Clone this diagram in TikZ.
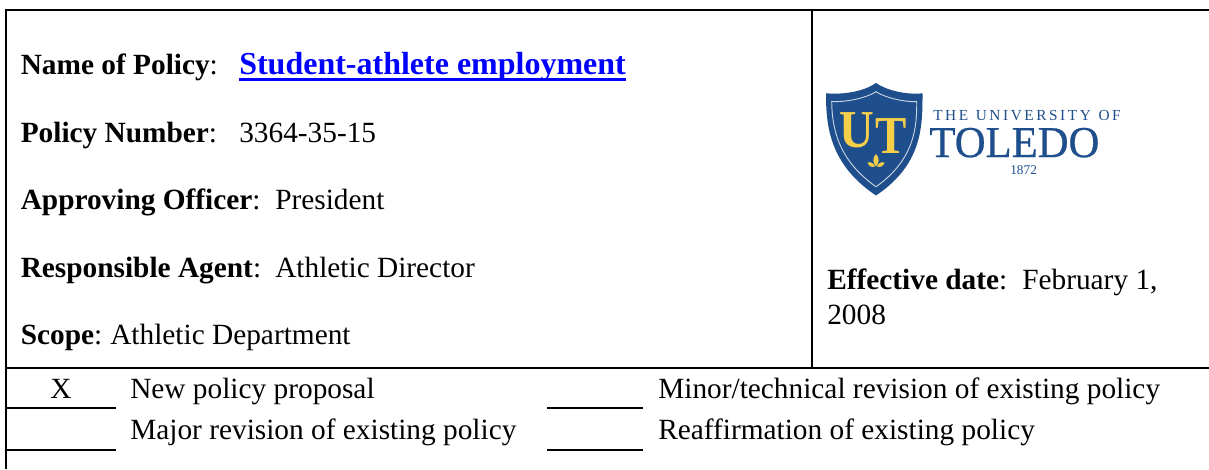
\documentclass[tikz,border=0pt]{standalone}
\usepackage{fontspec}
\setmainfont{Liberation Serif}
\newfontfamily\logoserif[FakeBold=0.6]{Liberation Serif}
\definecolor{utblue}{HTML}{1F4E8C}
\definecolor{utgold}{HTML}{F5CF4A}
\definecolor{linkblue}{HTML}{0000FF}
\tikzset{
  rule/.style={draw=black,line width=1.5pt},
  field/.style={anchor=base west,inner sep=0pt,font=\fontsize{22}{24}\selectfont},
  linktext/.style={anchor=base west,inner sep=0pt,text=linkblue,font=\fontsize{24}{26}\selectfont\bfseries},
  logotext/.style={anchor=base west,inner sep=0pt,text=utblue},
  crest/.style={anchor=base,inner sep=0pt,text=utgold,font=\fontsize{40}{40}\selectfont\bfseries}
}
\begin{document}
\begin{tikzpicture}[x=0.75pt,y=-0.75pt]
\useasboundingbox (0,0) rectangle (1209,469);
\fill[white] (0,0) rectangle (1209,469);
% frame
\coordinate (tl) at (6,10.3); \coordinate (tr) at (1209,10.3);
\coordinate (bl) at (6,469); \coordinate (ml) at (6,367.7);
\coordinate (mr) at (1209,367.7); \coordinate (dt) at (812,10.3); \coordinate (db) at (812,367.7);
\draw[rule] (bl) -- (tl) -- (tr);
\draw[rule] (ml) -- (mr);
\draw[rule] (dt) -- (db);
% fields
\node[field] (n1) at (20.5,74) {\textbf{Name of Policy}:};
\node[linktext] (n1b) at (239,74) {Student-athlete employment};
\fill[linkblue] (239,77.5) rectangle (626,80.7);
\node[field] (n2) at (20.5,142) {\textbf{Policy Number}:};
\node[field] (n2b) at (239,142) {3364-35-15};
\node[field] (n3) at (20.5,209) {\textbf{Approving Officer}:};
\node[field] (n3b) at (275,209) {President};
\node[field] (n4) at (20.5,277) {\textbf{Responsible Agent}:};
\node[field] (n4b) at (275,277) {Athletic Director};
\node[field] (n5) at (20.5,344) {\textbf{Scope}:};
\node[field] (n5b) at (110,344) {Athletic Department};
\node[field] (e1) at (827,289.5) {\textbf{Effective date}:};
\node[field] (e1b) at (1022,289.5) {February 1,};
\node[field] (e2) at (827,324) {2008};
% logo
\path[fill=utblue] (876,83) .. controls (866,90) and (848,95) .. (826,93.3)
  .. controls (826,125) and (829,164) .. (876,195.5)
  .. controls (923,164) and (922.5,125) .. (922.5,93.3)
  .. controls (905,95) and (886,90) .. (876,83) -- cycle;
\path[draw=white!75!utblue,line width=0.7pt] (876,91.7) .. controls (868,97) and (850,102) .. (831.7,101.7)
  .. controls (832,128) and (838,160) .. (876,186.7)
  .. controls (914,160) and (917,128) .. (916.7,101.7)
  .. controls (902,102) and (884,97) .. (876,91.7) -- cycle;
\node[crest,xscale=0.9] (u) at (857,147) {U};
\node[crest,xscale=0.88] (t) at (891.5,153) {T};
\fill[utgold] (876,154) .. controls (872,158) and (873,163) .. (876,166.5) .. controls (879,163) and (880,158) .. (876,154) -- cycle;
\fill[utgold] (867.5,162.5) .. controls (870,161.5) and (874,163) .. (875,166.5) .. controls (871,167.5) and (869,166.5) .. (867.5,162.5) -- cycle;
\fill[utgold] (884.5,162.5) .. controls (882,161.5) and (878,163) .. (877,166.5) .. controls (881,167.5) and (883,166.5) .. (884.5,162.5) -- cycle;
\node[logotext,font=\fontsize{11.5}{12}\selectfont] (l1) at (933,120) {T\,H\,E\ \ U\,N\,I\,V\,E\,R\,S\,I\,T\,Y\ \ O\,F};
\node[logotext,xscale=0.97,font=\fontsize{33}{34}\selectfont\logoserif] (l2) at (1013.5,157) {\makebox[0pt]{TOLEDO}};
\node[logotext,font=\fontsize{10}{10}\selectfont] (l3) at (1010,174.5) {1872};
% options
\foreach \a/\b/\y in {6/116/407.7, 6/116/449.7, 547/643/407.7, 547/643/449.7}{
  \draw[black,line width=1.5pt] (\a,\y) -- (\b,\y);
}
\node[field] (x) at (50,398.5) {X};
\node[field] (o1) at (130,398.5) {New policy proposal};
\node[field] (o2) at (130,439.5) {Major revision of existing policy};
\node[field] (o3) at (658,398.5) {Minor/technical revision of existing policy};
\node[field] (o4) at (658,439.5) {Reaffirmation of existing policy};
\end{tikzpicture}
\end{document}
